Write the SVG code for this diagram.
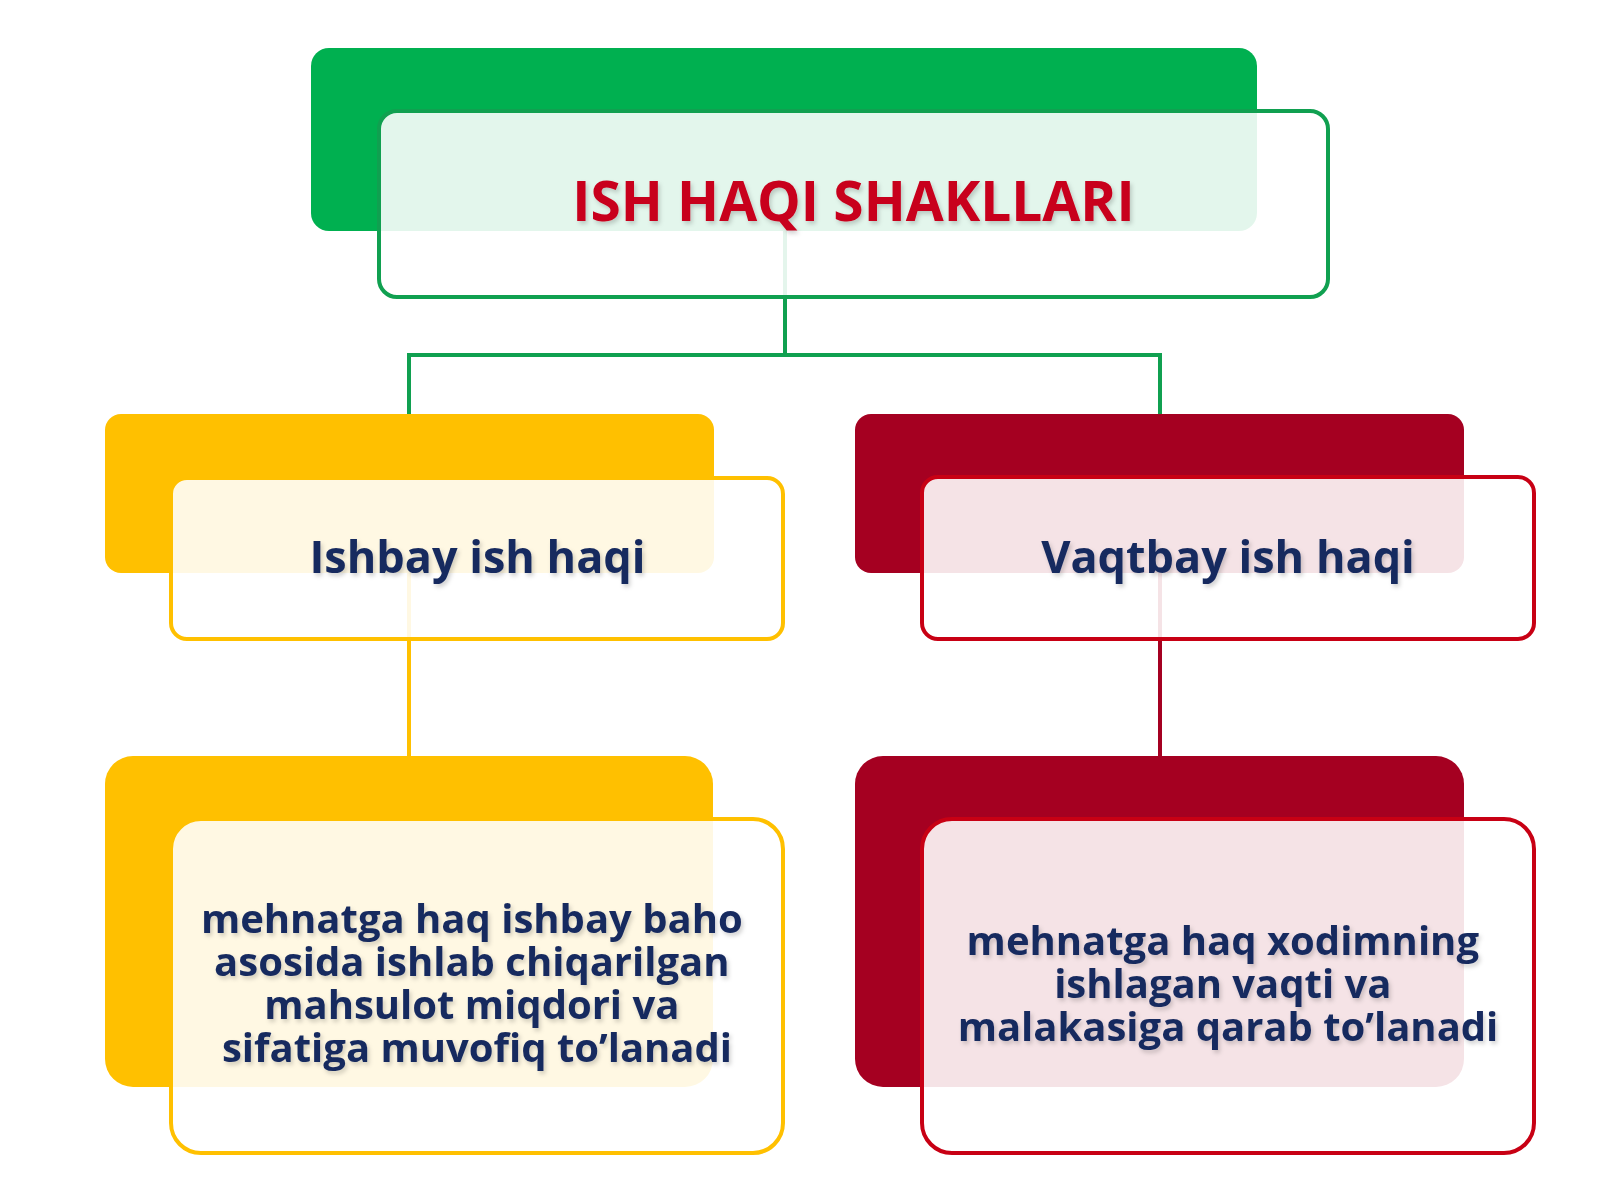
<svg xmlns="http://www.w3.org/2000/svg" width="1600" height="1200" viewBox="0 0 1600 1200">
  <defs>
    <filter id="ts" x="-5%" y="-20%" width="110%" height="150%">
      <feDropShadow dx="2" dy="3" stdDeviation="2" flood-color="#000" flood-opacity="0.18"/>
    </filter>
    <style>
      .conn { fill: none; stroke-width: 4; }
      .inner { fill: #ffffff; fill-opacity: 0.89; stroke-width: 4; }
      .txt { font-family: "Open Sans", "Noto Sans", "Liberation Sans", sans-serif; font-weight: bold; text-anchor: middle; fill: #172A5E; filter: url(#ts); }
      .title { font-family: "Open Sans", "Noto Sans", "Liberation Sans", sans-serif; font-weight: bold; text-anchor: middle; fill: #C8001E; font-size: 55px; filter: url(#ts); }
      .sub { font-size: 45px; }
      .body { font-size: 40px; }
    </style>
  </defs>
  <rect width="1600" height="1200" fill="#ffffff"/>

  <g id="connectors">
    <path class="conn" stroke="#10A050" d="M785 170 V355 H409 V500 M785 355 H1160 V500"/>
    <path class="conn" stroke="#FFC000" d="M409 500 V900"/>
    <path class="conn" stroke="#A50021" d="M1160 500 V900"/>
  </g>

  <g id="node-root">
    <rect x="311" y="48" width="946" height="183" rx="18" fill="#00B050"/>
    <rect class="inner" x="379" y="111" width="949" height="186" rx="18" stroke="#10A050"/>
    <text class="title" x="853.5" y="221">ISH HAQI SHAKLLARI</text>
  </g>

  <g id="node-ishbay">
    <rect x="105" y="414" width="609" height="159" rx="16" fill="#FFC000"/>
    <rect class="inner" x="171" y="478" width="612" height="161" rx="16" stroke="#FFC000"/>
    <text class="txt sub" x="477.5" y="573">Ishbay ish haqi</text>
  </g>

  <g id="node-vaqtbay">
    <rect x="855" y="414" width="609" height="159" rx="16" fill="#A50021"/>
    <rect class="inner" x="922" y="477" width="612" height="162" rx="16" stroke="#C80014"/>
    <text class="txt sub" x="1228" y="573">Vaqtbay ish haqi</text>
  </g>

  <g id="node-ishbay-desc">
    <rect x="105" y="756" width="608" height="331" rx="28" fill="#FFC000"/>
    <rect class="inner" x="171" y="819" width="612" height="334" rx="30" stroke="#FFC000"/>
    <text class="txt body" x="477" y="933">
      <tspan x="477" y="933">mehnatga haq ishbay baho</tspan>
      <tspan x="477" y="976">asosida ishlab chiqarilgan</tspan>
      <tspan x="477" y="1019">mahsulot miqdori va</tspan>
      <tspan x="477" y="1062">sifatiga muvofiq to’lanadi</tspan>
    </text>
  </g>

  <g id="node-vaqtbay-desc">
    <rect x="855" y="756" width="609" height="331" rx="28" fill="#A50021"/>
    <rect class="inner" x="922" y="819" width="612" height="334" rx="30" stroke="#C80014"/>
    <text class="txt body" x="1228" y="955">
      <tspan x="1228" y="955">mehnatga haq xodimning</tspan>
      <tspan x="1228" y="998">ishlagan vaqti va</tspan>
      <tspan x="1228" y="1041">malakasiga qarab to’lanadi</tspan>
    </text>
  </g>
</svg>
